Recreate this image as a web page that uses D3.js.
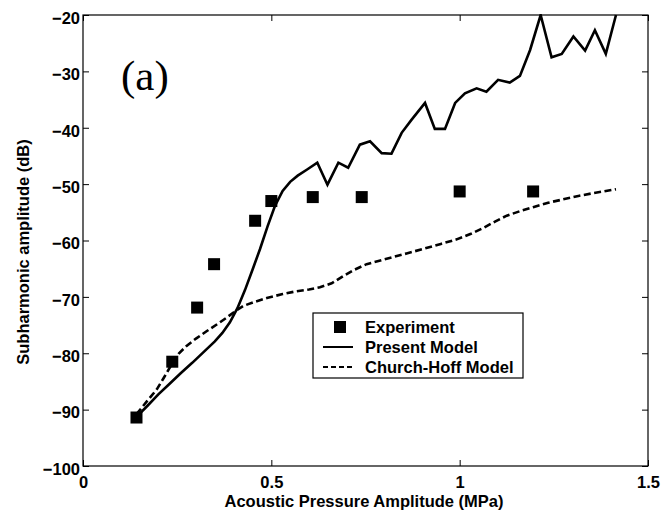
<!DOCTYPE html>
<html>
<head>
<meta charset="utf-8">
<script src="https://cdn.jsdelivr.net/npm/d3@7"></script>
<style>
  html, body { margin: 0; padding: 0; background: #fff; }
  svg { display: block; }
  text { font-family: "Liberation Sans", Arial, sans-serif; fill: #000; }
</style>
</head>
<body>
<svg id="chart" width="663" height="519"></svg>
<script>
// ---- data ----
const xTicks = [0, 0.5, 1, 1.5];
const xTickLabels = ["0", "0.5", "1", "1.5"];
const yTicks = [-100, -90, -80, -70, -60, -50, -40, -30, -20];

const expX = [0.142, 0.237, 0.303, 0.348, 0.457, 0.50, 0.61, 0.74, 1.0, 1.195];
const expY = [-91.4, -81.5, -71.9, -64.2, -56.5, -53.0, -52.3, -52.3, -51.3, -51.3];

const presentX = [0.142, 0.17, 0.2, 0.23, 0.26, 0.29, 0.32, 0.35, 0.37, 0.39, 0.41, 0.43, 0.45, 0.47, 0.49, 0.51, 0.53, 0.55, 0.57, 0.595, 0.622, 0.649, 0.678, 0.704, 0.735, 0.762, 0.793, 0.819, 0.846, 0.872, 0.908, 0.934, 0.961, 0.988, 1.014, 1.045, 1.071, 1.102, 1.133, 1.16, 1.187, 1.215, 1.244, 1.271, 1.302, 1.333, 1.359, 1.388, 1.415];
const presentY = [-91.3, -89.4, -87.3, -85.4, -83.5, -81.7, -79.8, -77.9, -76.4, -74.5, -72.0, -68.8, -65.2, -61.5, -57.5, -53.8, -51.2, -49.6, -48.5, -47.4, -46.2, -50.1, -46.2, -47.1, -43.0, -42.4, -44.5, -44.6, -40.9, -38.6, -35.6, -40.2, -40.2, -35.6, -33.9, -33.0, -33.6, -31.5, -32.0, -30.8, -26.2, -20.0, -27.5, -26.9, -23.8, -26.3, -22.7, -26.9, -20.0];

const churchX = [0.142, 0.17, 0.196, 0.215, 0.235, 0.255, 0.275, 0.3, 0.328, 0.355, 0.381, 0.405, 0.426, 0.455, 0.488, 0.53, 0.567, 0.6, 0.629, 0.66, 0.691, 0.72, 0.753, 0.797, 0.859, 0.903, 0.95, 0.992, 1.03, 1.062, 1.095, 1.125, 1.16, 1.195, 1.235, 1.275, 1.315, 1.355, 1.415];
const churchY = [-90.8, -88.5, -86.4, -84.3, -82.0, -80.0, -78.7, -77.4, -76.1, -74.9, -73.7, -72.5, -71.6, -70.9, -70.2, -69.5, -69.0, -68.7, -68.3, -67.6, -66.3, -65.2, -64.2, -63.4, -62.3, -61.5, -60.6, -59.8, -58.8, -57.8, -56.6, -55.6, -54.8, -54.1, -53.3, -52.7, -52.1, -51.6, -50.9];

const legendLabels = ["Experiment", "Present Model", "Church-Hoff Model"];

// ---- layout ----
const svg = d3.select("#chart");
const m = { left: 83, top: 15, right: 15, bottom: 53 };
const W = 663 - m.left - m.right;   // 565
const H = 519 - m.top - m.bottom;   // 451

const x = d3.scaleLinear().domain([0, 1.5]).range([0, W]);
const y = d3.scaleLinear().domain([-100, -20]).range([H, 0]);

const g = svg.append("g").attr("transform", `translate(${m.left},${m.top})`);

svg.append("defs").append("clipPath").attr("id", "clip")
  .append("rect").attr("x", 0).attr("y", -1).attr("width", W).attr("height", H + 1);

const tickLen = 6;
const fontSize = "16.5px";
const xAxis = d3.axisBottom(x).tickValues(xTicks).tickFormat((d, i) => xTickLabels[i])
  .tickSizeInner(-tickLen).tickSizeOuter(0).tickPadding(10);
const yAxis = d3.axisLeft(y).tickValues(yTicks).tickFormat(d3.format("d"))
  .tickSizeInner(-tickLen).tickSizeOuter(0).tickPadding(3);

const gx = g.append("g").attr("transform", `translate(0,${H})`).call(xAxis);
const gy = g.append("g").call(yAxis);
g.append("g").call(d3.axisTop(x).tickValues(xTicks).tickFormat("").tickSizeInner(-tickLen).tickSizeOuter(0));
g.append("g").attr("transform", `translate(${W},0)`).call(d3.axisRight(y).tickValues(yTicks).tickFormat("").tickSizeInner(-tickLen).tickSizeOuter(0));

svg.selectAll(".domain").remove();
svg.selectAll(".tick line").attr("stroke", "#000").attr("stroke-width", 1);
gx.selectAll("text").style("font-size", fontSize).style("font-weight", "bold").attr("fill", "#000");
gy.selectAll("text").style("font-size", fontSize).style("font-weight", "bold").attr("fill", "#000")
  .attr("dy", "0.5em");

g.append("rect").attr("x", 0).attr("y", 0).attr("width", W).attr("height", H)
  .attr("fill", "none").attr("stroke", "#000").attr("stroke-width", 1.2);

const plot = g.append("g").attr("clip-path", "url(#clip)");
const line = d3.line().x(d => x(d[0])).y(d => y(d[1]));
const presentData = presentX.map((v, i) => [v, presentY[i]]);
const churchData = churchX.map((v, i) => [v, churchY[i]]);

plot.append("path").datum(churchData).attr("d", line)
  .attr("fill", "none").attr("stroke", "#000").attr("stroke-width", 2.6)
  .attr("stroke-dasharray", "7,3.5");
plot.append("path").datum(presentData).attr("d", line)
  .attr("fill", "none").attr("stroke", "#000").attr("stroke-width", 2.6)
  .attr("stroke-linejoin", "miter");

const sq = 12;
plot.selectAll("rect.exp").data(expX.map((v, i) => [v, expY[i]])).enter()
  .append("rect").attr("class", "exp")
  .attr("x", d => x(d[0]) - sq / 2).attr("y", d => y(d[1]) - sq / 2)
  .attr("width", sq).attr("height", sq).attr("fill", "#000");

svg.append("text").attr("x", 121).attr("y", 90)
  .style("font-family", "'Liberation Serif', 'Times New Roman', serif")
  .style("font-size", "43px").text("(a)");

svg.append("text").attr("x", 364).attr("y", 507).attr("text-anchor", "middle")
  .style("font-size", fontSize).style("font-weight", "bold")
  .text("Acoustic Pressure Amplitude (MPa)");
svg.append("text").attr("transform", "translate(29,252) rotate(-90)").attr("text-anchor", "middle")
  .style("font-size", fontSize).style("font-weight", "bold")
  .text("Subharmonic amplitude (dB)");

const lg = svg.append("g").attr("transform", "translate(313,313)");
lg.append("rect").attr("x", 0).attr("y", 0).attr("width", 210).attr("height", 65)
  .attr("fill", "#fff").attr("stroke", "#000").attr("stroke-width", 1.2);
const rowY = [14, 34, 54];
lg.append("rect").attr("x", 27 - sq / 2).attr("y", rowY[0] - sq / 2).attr("width", sq).attr("height", sq).attr("fill", "#000");
lg.append("line").attr("x1", 10).attr("x2", 40).attr("y1", rowY[1]).attr("y2", rowY[1])
  .attr("stroke", "#000").attr("stroke-width", 2);
lg.append("line").attr("x1", 10).attr("x2", 40).attr("y1", rowY[2]).attr("y2", rowY[2])
  .attr("stroke", "#000").attr("stroke-width", 2).attr("stroke-dasharray", "5,3");
lg.selectAll("text.lab").data(legendLabels).enter().append("text").attr("class", "lab")
  .attr("x", 52).attr("y", (d, i) => rowY[i]).attr("dy", "0.36em")
  .style("font-size", fontSize).style("font-weight", "bold")
  .text(d => d);
</script>
</body>
</html>
